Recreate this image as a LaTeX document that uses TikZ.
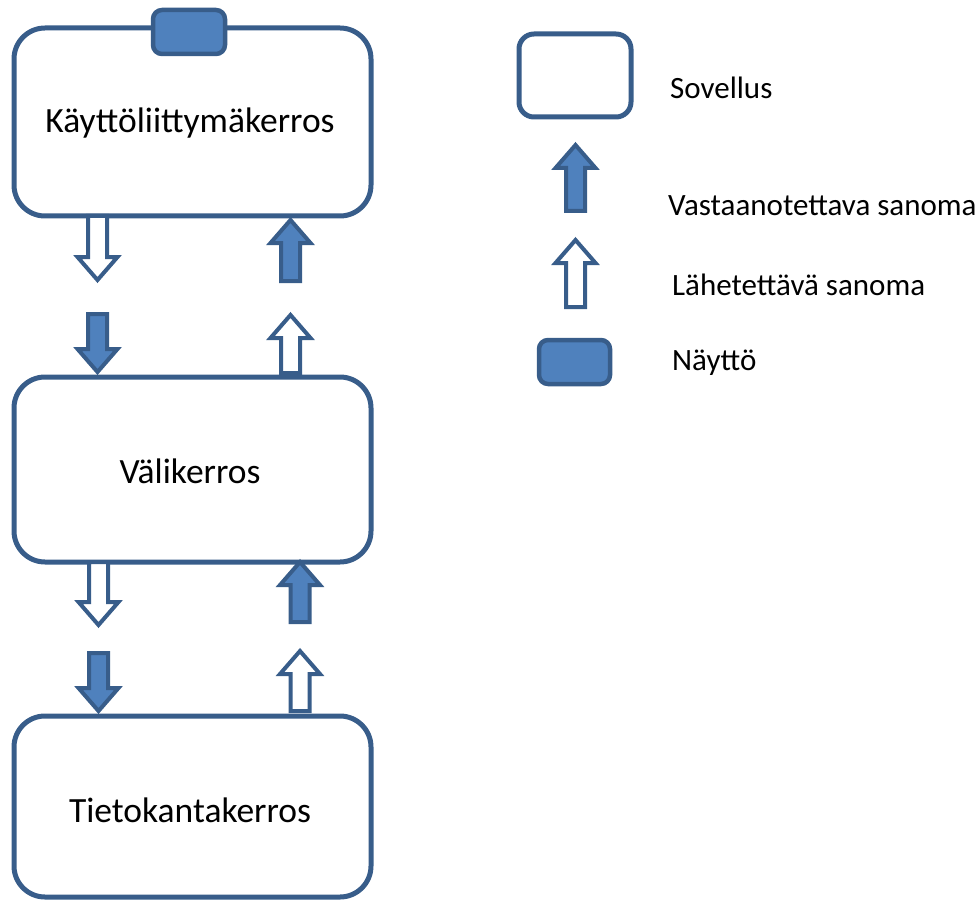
\documentclass[tikz,border=0pt]{standalone}
\usepackage{fontspec}
\setmainfont{Carlito}
\definecolor{dk}{HTML}{385D8A}
\definecolor{mid}{HTML}{4F81BD}
\tikzset{
  layerbox/.style={draw=dk, line width=5pt, fill=white, rounded corners=31pt},
  screenbox/.style={draw=dk, line width=4.5pt, fill=mid, rounded corners=9pt},
  maintext/.style={font=\fontsize{35.5}{42}\selectfont, anchor=base, inner sep=0pt},
  legtext/.style={font=\fontsize{31}{37}\selectfont, anchor=base west, inner sep=0pt},
  pics/blockarr/.style n args={2}{code={
    \draw[draw=dk, line width=4pt, fill=#1, line join=miter]
      (0,0) -- (20,23) -- (9.5,23) -- (9.5,#2) -- (-9.5,#2) -- (-9.5,23) -- (-20,23) -- cycle;
  }}
}
\begin{document}
\begin{tikzpicture}[x=1pt,y=-1pt]
\useasboundingbox (0,0) rectangle (976,901);
% layers
\draw[layerbox] (14,28) rectangle (371,216);
\draw[layerbox] (14,377) rectangle (371,562);
\draw[layerbox] (14,716) rectangle (371,897);
\node[maintext] (t1) at (190,133) {Käyttöliittymäkerros};
\node[maintext] (t2) at (190,483) {Välikerros};
\node[maintext] (t3) at (190,822) {Tietokantakerros};
% screen
\draw[screenbox] (153,10) rectangle (225,54);
% arrows between layer 1 and 2
\pic[rotate=180] at (97.5,280) {blockarr={white}{64}};
\pic at (290.5,220) {blockarr={mid}{61}};
\pic[rotate=180] at (97.5,372) {blockarr={mid}{58}};
\pic at (290.5,315) {blockarr={white}{58}};
% arrows between layer 2 and 3
\pic[rotate=180] at (98.5,625) {blockarr={white}{63}};
\pic[rotate=180] at (98.5,711) {blockarr={mid}{58}};
\pic at (300,562) {blockarr={mid}{60}};
\pic at (300,651) {blockarr={white}{60}};
% legend
\draw[draw=dk, line width=5pt, fill=white, rounded corners=15pt] (519,34) rectangle (631,117);
\pic at (575.5,145) {blockarr={mid}{66}};
\pic at (575.5,240) {blockarr={white}{67}};
\draw[screenbox] (539,340) rectangle (610,384);
\node[legtext] (l1) at (670,99) {Sovellus};
\node[legtext] (l2) at (668,215) {Vastaanotettava sanoma};
\node[legtext] (l3) at (672,295) {Lähetettävä sanoma};
\node[legtext] (l4) at (672,370) {Näyttö};
\end{tikzpicture}
\end{document}
